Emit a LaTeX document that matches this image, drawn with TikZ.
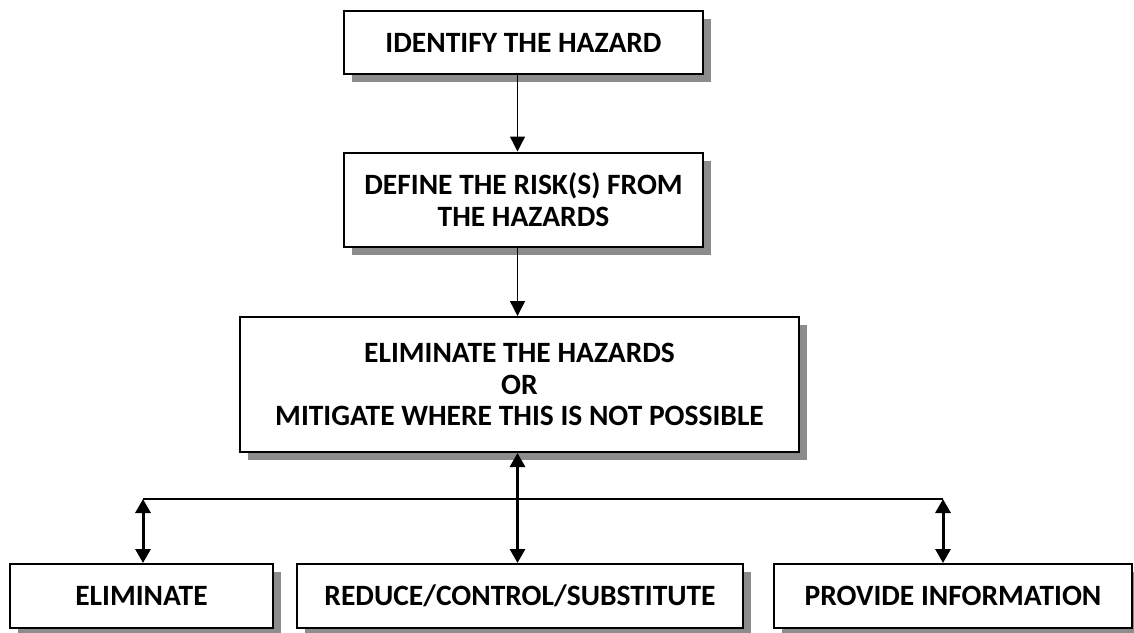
\documentclass[tikz,border=0pt]{standalone}
\usepackage{fontspec}
\setmainfont{Carlito}
\usetikzlibrary{arrows.meta,shadows}
\begin{document}
\begin{tikzpicture}[x=1pt,y=-1pt,
  box/.style={draw, line width=2pt, fill=white, align=center, inner sep=0pt,
    font=\fontsize{29.5}{31.5}\selectfont\bfseries,
    drop shadow={shadow xshift=8pt, shadow yshift=-8pt, fill=black!45, opacity=1}},
  arr/.style={line width=1.4pt, -{Triangle[width=15pt,length=15pt]}},
  dbl/.style={line width=3pt, {Triangle[width=15pt,length=14pt]}-{Triangle[width=15pt,length=14pt]}},
  hline/.style={line width=1.4pt}]
\useasboundingbox (0,0) rectangle (1134,632);
\node[box, minimum width=359pt, minimum height=63pt] (b1) at (523.5,42.5) {IDENTIFY THE HAZARD};
\node[box, minimum width=359pt, minimum height=94pt] (b2) at (523.5,199.5) {DEFINE THE RISK(S) FROM\\THE HAZARDS};
\node[box, minimum width=559pt, minimum height=135pt] (b3) at (519.5,384.5) {ELIMINATE THE HAZARDS\\OR\\MITIGATE WHERE THIS IS NOT POSSIBLE};
\node[box, minimum width=263pt, minimum height=64pt] (bA) at (141.5,596) {ELIMINATE};
\node[box, minimum width=446pt, minimum height=64pt] (bB) at (520,596) {REDUCE/CONTROL/SUBSTITUTE};
\node[box, minimum width=358pt, minimum height=64pt] (bC) at (953,596) {PROVIDE INFORMATION};
\coordinate (ax) at (517.5,0);
\coordinate (hl) at (143,499);
\coordinate (hr) at (943,499);
\draw[arr] (b1.south -| ax) -- (b2.north -| ax);
\draw[arr] (b2.south -| ax) -- (b3.north -| ax);
\draw[hline] (hl) -- (hr);
\draw[dbl] (b3.south -| ax) -- (bB.north -| ax);
\draw[dbl] (hl) -- (bA.north -| hl);
\draw[dbl] (hr) -- (bC.north -| hr);
\end{tikzpicture}
\end{document}
